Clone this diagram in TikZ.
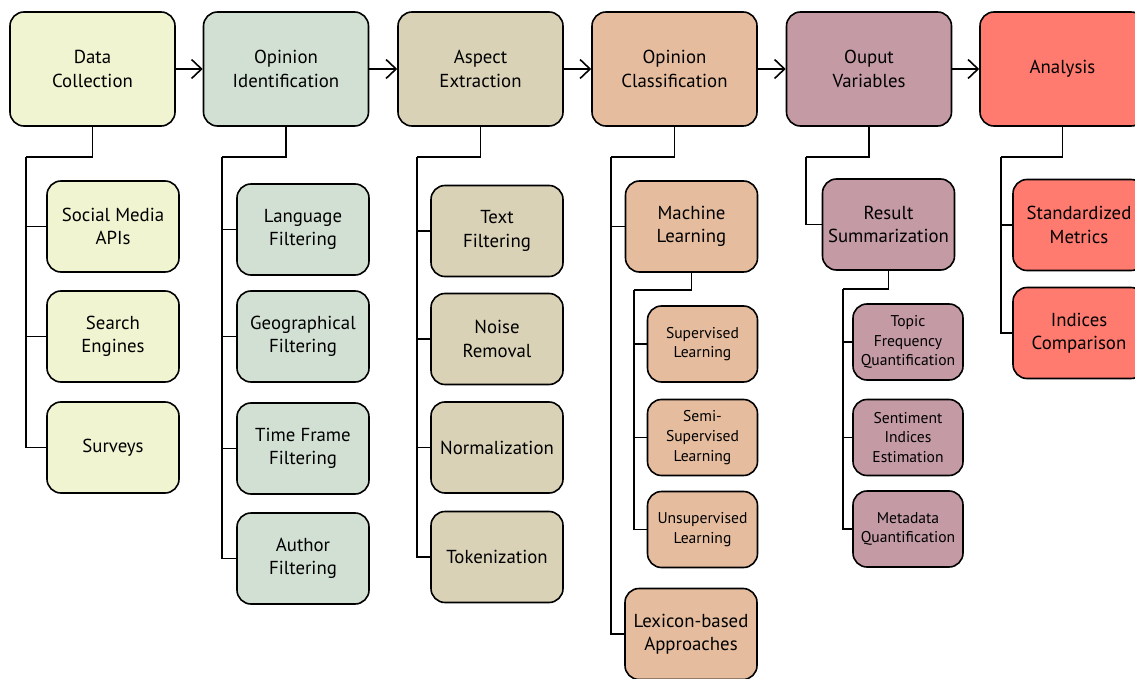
\documentclass[tikz,border=0pt]{standalone}
\usepackage{fontspec}
\setmainfont{PT Sans}
\usetikzlibrary{arrows.meta}
\definecolor{cdc}{HTML}{F0F4D0}
\definecolor{coi}{HTML}{D2E0D4}
\definecolor{cae}{HTML}{D9D2B6}
\definecolor{coc}{HTML}{E5BD9E}
\definecolor{cov}{HTML}{C49AA5}
\definecolor{can}{HTML}{FF7B70}
\begin{document}
\begin{tikzpicture}[x=1pt,y=-1pt,
 box/.style={draw=black, line width=1.6pt, rounded corners=14pt, align=center, inner sep=0pt},
 big/.style={box, minimum width=165pt, minimum height=114pt, font=\fontsize{18.8}{23.5}\selectfont},
 mid/.style={box, minimum width=132pt, minimum height=91pt, font=\fontsize{18.8}{23.5}\selectfont},
 small/.style={box, minimum width=110pt, minimum height=76pt, font=\fontsize{15.6}{19.6}\selectfont},
 link/.style={line width=1.6pt, draw=black},
 arr/.style={link, -{Straight Barb[length=10pt, width=19pt, line width=1.6pt]}}]
\path[use as bounding box] (0,0) rectangle (1135,679);
\clip (0,0) rectangle (1135,679);
% top row
\node[big, fill=cdc] (dc) at (92.5,69) {Data\\Collection};
\node[big, fill=coi] (oi) at (286,69) {Opinion\\Identification};
\node[big, fill=cae] (ae) at (480.5,69) {Aspect\\Extraction};
\node[big, fill=coc] (oc) at (674.5,69) {Opinion\\Classification};
\node[big, fill=cov] (ov) at (869,69) {Ouput\\Variables};
\node[big, fill=can] (an) at (1062.5,69) {Analysis};
\draw[arr] (dc) -- (oi);
\draw[arr] (oi) -- (ae);
\draw[arr] (ae) -- (oc);
\draw[arr] (oc) -- (ov);
\draw[arr] (ov) -- (an);
% data collection
\node[mid, fill=cdc] (sm) at (113,226.5) {Social Media\\APIs};
\node[mid, fill=cdc] (se) at (113,336.5) {Search\\Engines};
\node[mid, fill=cdc] (sv) at (113,447.5) {Surveys};
\coordinate (tdc) at (26,157);
\draw[link] (dc.south) |- (tdc);
\draw[link] (tdc) |- (sm.west);
\draw[link] (tdc) |- (se.west);
\draw[link] (tdc) |- (sv.west);
% opinion identification
\node[mid, fill=coi] (lf) at (303,229.5) {Language\\Filtering};
\node[mid, fill=coi] (gf) at (303,336.5) {Geographical\\Filtering};
\node[mid, fill=coi] (tf) at (303,448.5) {Time Frame\\Filtering};
\node[mid, fill=coi] (af) at (303,558.5) {Author\\Filtering};
\coordinate (toi) at (222,157);
\draw[link] (oi.south) |- (toi);
\draw[link] (toi) |- (lf.west);
\draw[link] (toi) |- (gf.west);
\draw[link] (toi) |- (tf.west);
\draw[link] (toi) |- (af.west);
% aspect extraction
\node[mid, fill=cae] (txf) at (497,231) {Text\\Filtering};
\node[mid, fill=cae] (nr) at (497,339) {Noise\\Removal};
\node[mid, fill=cae] (nm) at (497,447.5) {Normalization};
\node[mid, fill=cae] (tk) at (497,557) {Tokenization};
\coordinate (tae) at (417,157);
\draw[link] (ae.south) |- (tae);
\draw[link] (tae) |- (txf.west);
\draw[link] (tae) |- (nr.west);
\draw[link] (tae) |- (nm.west);
\draw[link] (tae) |- (tk.west);
% opinion classification
\node[mid, fill=coc] (ml) at (691.5,226.5) {Machine\\Learning};
\node[mid, fill=coc] (lx) at (691,634) {Lexicon-based\\Approaches};
\coordinate (toc) at (611,157);
\draw[link] (oc.south) |- (toc);
\draw[link] (toc) |- (ml.west);
\draw[link] (toc) |- (lx.west);
\node[small, fill=coc] (sl) at (702.5,344) {Supervised\\Learning};
\node[small, fill=coc] (ssl) at (702.5,437.5) {Semi-\\Supervised\\Learning};
\node[small, fill=coc] (ul) at (702.5,529.5) {Unsupervised\\Learning};
\coordinate (tml) at (634,290);
\draw[link] (ml.south) |- (tml);
\draw[link] (tml) |- (sl.west);
\draw[link] (tml) |- (ssl.west);
\draw[link] (tml) |- (ul.west);
% output variables
\node[mid, fill=cov] (rs) at (888.5,224.5) {Result\\Summarization};
\coordinate (tov) at (806,157);
\draw[link] (ov.south) |- (tov);
\draw[link] (tov) |- (rs.west);
\node[small, fill=cov] (tq) at (908,342) {Topic\\Frequency\\Quantification};
\node[small, fill=cov] (si) at (908,437.5) {Sentiment\\Indices\\Estimation};
\node[small, fill=cov] (mq) at (908,529) {Metadata\\Quantification};
\coordinate (trs) at (843,289);
\draw[link] (rs.south) |- (trs);
\draw[link] (trs) |- (tq.west);
\draw[link] (trs) |- (si.west);
\draw[link] (trs) |- (mq.west);
% analysis
\node[mid, fill=can] (stm) at (1079,225) {Standardized\\Metrics};
\node[mid, fill=can] (ic) at (1079,333) {Indices\\Comparison};
\coordinate (tan) at (1001,157);
\draw[link] (an.south) |- (tan);
\draw[link] (tan) |- (stm.west);
\draw[link] (tan) |- (ic.west);
\end{tikzpicture}
\end{document}
